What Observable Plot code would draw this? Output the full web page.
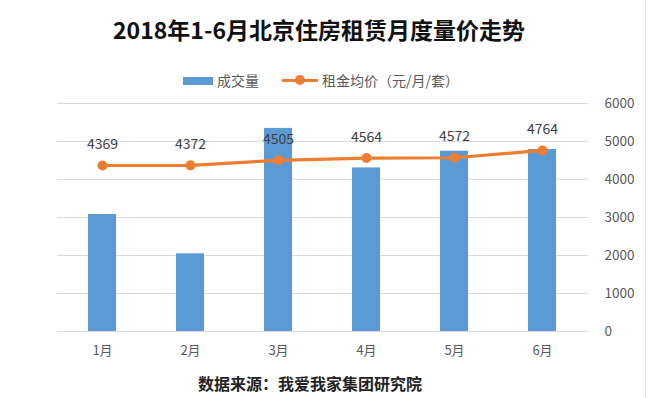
<!DOCTYPE html>
<html>
<head>
<meta charset="utf-8">
<script src="https://cdn.jsdelivr.net/npm/d3@7"></script>
<script src="https://cdn.jsdelivr.net/npm/@observablehq/plot@0.6"></script>
<style>
  html, body { margin: 0; padding: 0; background: #fff; }
  #wrap { position: relative; width: 650px; height: 398px; overflow: hidden; font-family: "Noto Sans CJK SC", "Noto Sans", sans-serif; }
  #title { position: absolute; left: -6px; width: 650px; top: 14px; text-align: center; font-size: 23px; font-weight: bold; color: #111; line-height: 30px; }
  #legend { position: absolute; top: 70px; left: 0; width: 650px; height: 20px; font-size: 14px; color: #595959; }
  .lg { position: absolute; }
  #chart { position: absolute; left: 0; top: 85px; }
  #caption { position: absolute; left: -15px; width: 650px; top: 371px; text-align: center; font-size: 16px; font-weight: bold; color: #222; line-height: 24px; }
  #border { position: absolute; left: 645px; top: 0; width: 1px; height: 398px; background: #e6e6e6; }
</style>
</head>
<body>
<div id="wrap">
  <div id="title"></div>
  <div id="legend"></div>
  <div id="chart"></div>
  <div id="caption"></div>
  <div id="border"></div>
</div>
<script>
const months = ["1月", "2月", "3月", "4月", "5月", "6月"];
const volume = [3080, 2045, 5345, 4305, 4745, 4790];
const rent = [4369, 4372, 4505, 4564, 4572, 4764];
const yTicks = [0, 1000, 2000, 3000, 4000, 5000, 6000];
const seriesNames = ["成交量", "租金均价（元/月/套）"];
const titleText = "2018年1-6月北京住房租赁月度量价走势";
const captionText = "数据来源：我爱我家集团研究院";

const barColor = "#5B9BD5";
const lineColor = "#ED7D31";

document.getElementById("title").textContent = titleText;
document.getElementById("caption").textContent = captionText;

// legend
const lg = document.getElementById("legend");
lg.innerHTML = `
  <div class="lg" style="left:183px;top:7px;width:30px;height:8px;background:${barColor}"></div>
  <div class="lg" style="left:217px;top:0px;line-height:20px">${seriesNames[0]}</div>
  <div class="lg" style="left:282px;top:9px;width:36px;height:3px;background:${lineColor}"></div>
  <div class="lg" style="left:295px;top:5px;width:10px;height:10px;border-radius:5px;background:${lineColor}"></div>
  <div class="lg" style="left:322px;top:0px;line-height:20px">${seriesNames[1]}</div>
`;

const data = months.map((m, i) => ({month: m, volume: volume[i], rent: rent[i]}));

const chart = Plot.plot({
  width: 650,
  height: 280,
  marginTop: 18,
  marginBottom: 34,
  marginLeft: 57,
  marginRight: 62,
  style: { fontFamily: "'Noto Sans CJK SC', 'Noto Sans', sans-serif", fontSize: "13px", color: "#595959", background: "transparent" },
  x: { domain: months, paddingInner: 0.68, paddingOuter: 0.34, label: null },
  y: { domain: [0, 6000], label: null },
  marks: [
    Plot.gridY(yTicks, { stroke: "#d9d9d9", strokeOpacity: 1, strokeWidth: 1.2 }),
    Plot.barY(data, { x: "month", y: "volume", fill: barColor }),
    Plot.line(data, { x: "month", y: "rent", stroke: lineColor, strokeWidth: 3.2 }),
    Plot.dot(data, { x: "month", y: "rent", fill: lineColor, r: 5 }),
    Plot.text(data, { x: "month", y: "rent", text: d => String(d.rent), dy: -21, fill: "#404040", fontSize: 14 }),
    Plot.axisX({ tickSize: 0, tickPadding: 14, fontSize: 13, fill: "#595959" }),
    Plot.axisY({ anchor: "right", ticks: yTicks, tickSize: 0, tickPadding: 16, tickFormat: d => String(d), fontSize: 13.5, fill: "#595959" })
  ]
});
document.getElementById("chart").appendChild(chart);
</script>
</body>
</html>
